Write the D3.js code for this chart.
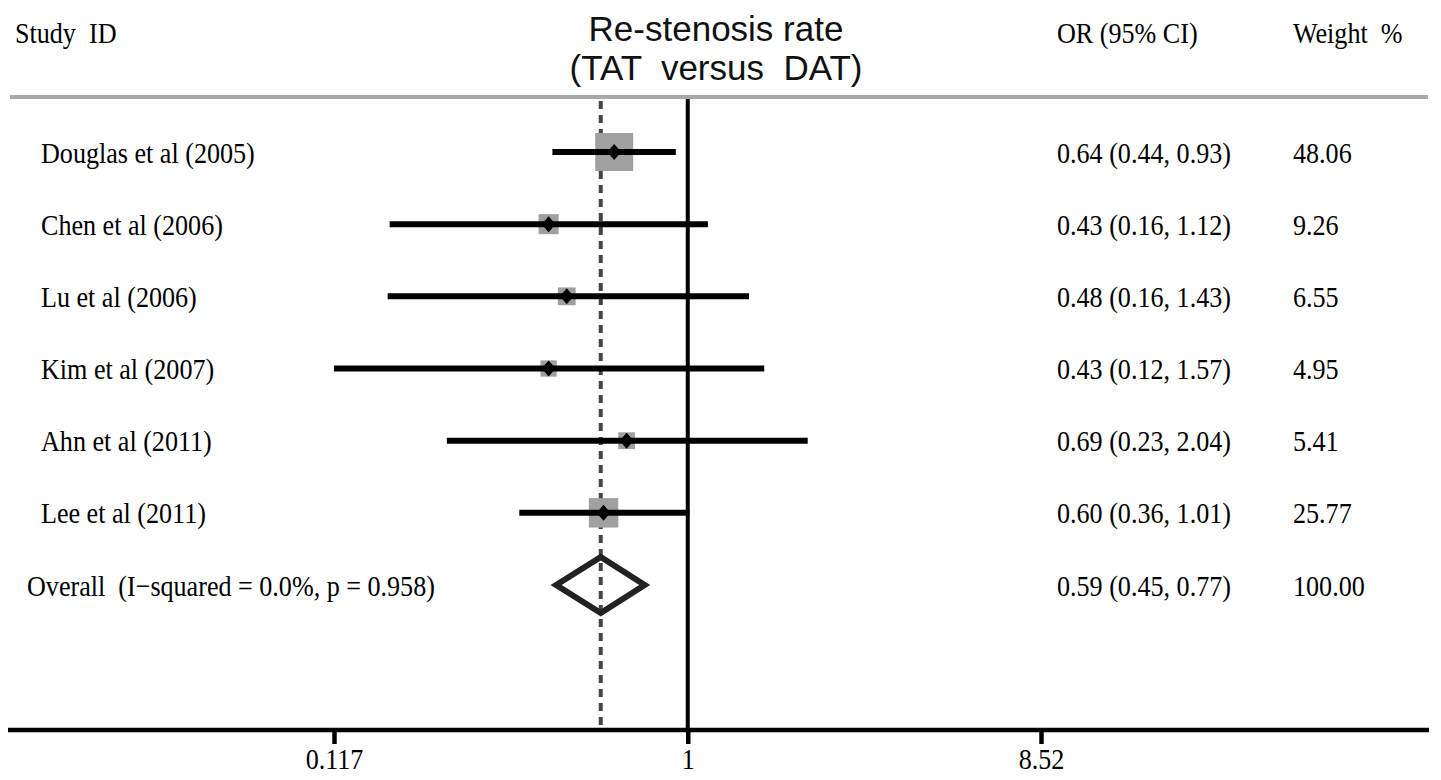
<!DOCTYPE html>
<html>
<head>
<meta charset="utf-8">
<script src="https://cdn.jsdelivr.net/npm/d3@7/dist/d3.min.js"></script>
<style>
  html, body { margin: 0; padding: 0; background: #fff; }
  svg { display: block; }
  text { white-space: pre; }
</style>
</head>
<body>
<svg id="chart" width="1441" height="780"></svg>
<script>
// ---------- data ----------
const studies = ["Douglas et al (2005)", "Chen et al (2006)", "Lu et al (2006)", "Kim et al (2007)", "Ahn et al (2011)", "Lee et al (2011)"];
const orValues = [0.64, 0.43, 0.48, 0.43, 0.69, 0.60];
const ciLower = [0.44, 0.164, 0.162, 0.117, 0.232, 0.36];
const ciUpper = [0.93, 1.13, 1.45, 1.59, 2.07, 1.01];
const weights = [48.06, 9.26, 6.55, 4.95, 5.41, 25.77];
const orLabels = ["0.64 (0.44, 0.93)", "0.43 (0.16, 1.12)", "0.48 (0.16, 1.43)", "0.43 (0.12, 1.57)", "0.69 (0.23, 2.04)", "0.60 (0.36, 1.01)"];
const weightLabels = ["48.06", "9.26", "6.55", "4.95", "5.41", "25.77"];
const overallLabel = "Overall  (I\u2212squared = 0.0%, p = 0.958)";
const overall = { or: 0.59, lo: 0.45, hi: 0.77, orLabel: "0.59 (0.45, 0.77)", weightLabel: "100.00" };
const tickValues = [0.117, 1, 8.52];
const tickLabels = ["0.117", "1", "8.52"];
const titleLines = ["Re-stenosis rate", "(TAT  versus  DAT)"];
const headers = { study: "Study  ID", or: "OR (95% CI)", weight: "Weight  %" };

// ---------- layout ----------
const svg = d3.select("#chart");
const serif = "'Liberation Serif', 'Times New Roman', serif";
const sans = "'Liberation Sans', Arial, sans-serif";
const topLineY = 97, axisY = 730;
const rowNames = studies.concat(["Overall"]);
const y = d3.scalePoint().domain(rowNames).range([152, 585]);
const x = d3.scaleLog().domain([0.117, 8.52]).range([334, 1041]);
const boxSide = d3.scaleSqrt().domain([0, 48.06]).range([6, 38]);
const colOR = 1057, colW = 1293, fs = 30, sx = 0.87;

// serif text helper: tall, slightly condensed glyphs as in the reference
function serifText(sel, tx, ty, str, anchor) {
  return sel.append("text")
    .attr("transform", `translate(${tx},${ty}) scale(${sx},1)`)
    .attr("font-family", serif).attr("font-size", fs).attr("fill", "#000")
    .attr("text-anchor", anchor || "start")
    .text(str);
}

// header
serifText(svg, 15, 43, headers.study);
serifText(svg, colOR, 43, headers.or);
serifText(svg, colW, 43, headers.weight);
svg.selectAll("text.title").data(titleLines).join("text")
  .attr("class", "title").attr("x", 716).attr("y", (d, i) => 41 + i * 39)
  .attr("text-anchor", "middle").attr("font-family", sans).attr("font-size", 35).attr("fill", "#111")
  .text(d => d);

// top gray rule
svg.append("line").attr("x1", 10).attr("x2", 1428).attr("y1", topLineY).attr("y2", topLineY)
  .attr("stroke", "#a8a8a8").attr("stroke-width", 4);

// reference lines
svg.append("line").attr("x1", x(1)).attr("x2", x(1)).attr("y1", topLineY + 2).attr("y2", axisY)
  .attr("stroke", "#000").attr("stroke-width", 4);
svg.append("line").attr("x1", x(overall.or)).attr("x2", x(overall.or)).attr("y1", topLineY + 4).attr("y2", axisY)
  .attr("stroke", "#444").attr("stroke-width", 4).attr("stroke-dasharray", "8,6");

// study rows
const rows = svg.selectAll("g.row").data(studies).join("g").attr("class", "row");
rows.append("rect")
  .attr("x", (d, i) => x(orValues[i]) - boxSide(weights[i]) / 2)
  .attr("y", (d, i) => y(d) - boxSide(weights[i]) / 2)
  .attr("width", (d, i) => boxSide(weights[i]))
  .attr("height", (d, i) => boxSide(weights[i]))
  .attr("fill", "#a0a0a0");
rows.append("line")
  .attr("x1", (d, i) => x(ciLower[i])).attr("x2", (d, i) => x(ciUpper[i]))
  .attr("y1", d => y(d)).attr("y2", d => y(d))
  .attr("stroke", "#000").attr("stroke-width", 6);
rows.append("path")
  .attr("d", (d, i) => {
    const cx = x(orValues[i]), cy = y(d);
    return `M${cx - 7},${cy} L${cx},${cy - 8} L${cx + 7},${cy} L${cx},${cy + 8} Z`;
  })
  .attr("fill", "#000");
rows.each(function (d, i) {
  const g = d3.select(this), cy = y(d) + 10.5;
  serifText(g, 41, cy, d);
  serifText(g, colOR, cy, orLabels[i]);
  serifText(g, colW, cy, weightLabels[i]);
});

// overall
const oy = y("Overall");
svg.append("path")
  .attr("d", `M${x(overall.lo)},${oy} L${x(overall.or)},${oy - 28} L${x(overall.hi)},${oy} L${x(overall.or)},${oy + 28} Z`)
  .attr("fill", "none").attr("stroke", "#222").attr("stroke-width", 6).attr("stroke-linejoin", "miter");
serifText(svg, 27, oy + 10.5, overallLabel);
serifText(svg, colOR, oy + 10.5, overall.orLabel);
serifText(svg, colW, oy + 10.5, overall.weightLabel);

// x axis
const axis = d3.axisBottom(x).tickValues(tickValues).tickFormat("").tickSize(14);
const ax = svg.append("g").attr("transform", `translate(0,${axisY})`).call(axis);
ax.select(".domain").remove();
ax.insert("line", ":first-child").attr("x1", 8).attr("x2", 1429).attr("y1", 0).attr("y2", 0)
  .attr("stroke", "#000").attr("stroke-width", 4.5);
ax.selectAll(".tick line").attr("stroke", "#000").attr("stroke-width", 4.5);
ax.selectAll(".tick").each(function (d, i) {
  serifText(d3.select(this), 0, 39, tickLabels[i], "middle");
});
</script>
</body>
</html>
